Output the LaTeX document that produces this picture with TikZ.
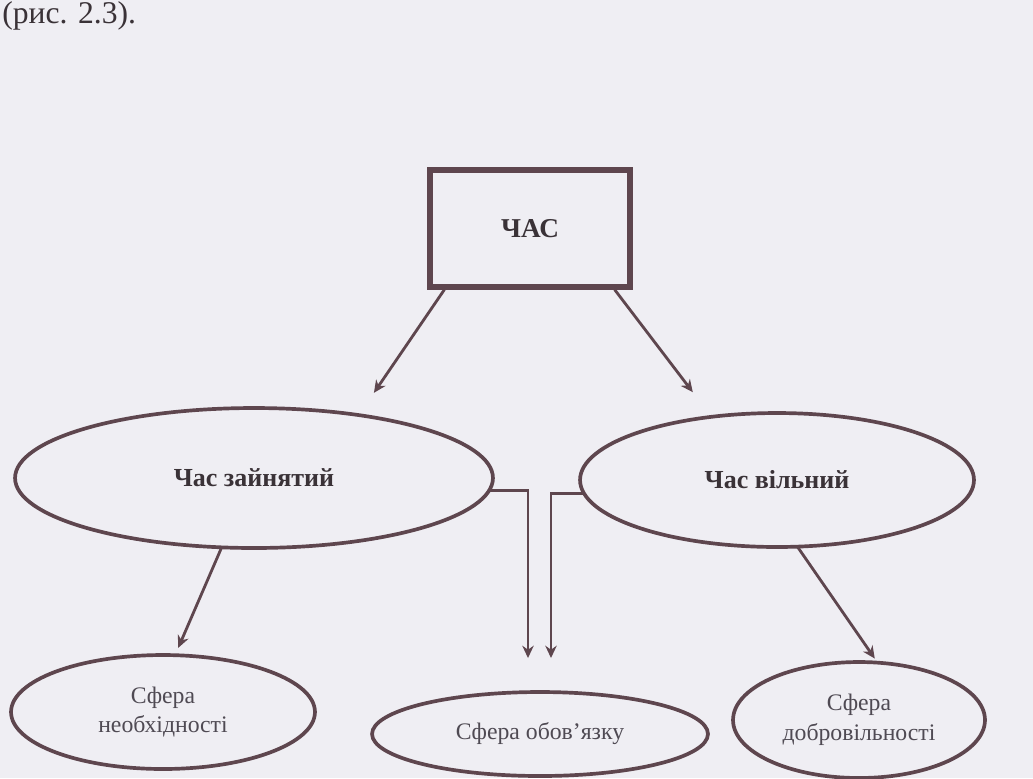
\documentclass[tikz,border=0pt]{standalone}
\usepackage{fontspec}
\setmainfont{Liberation Serif}
\usetikzlibrary{arrows.meta, shapes.geometric, positioning}
\definecolor{ink}{HTML}{5E464E}
\definecolor{paper}{HTML}{EFEEF3}
\definecolor{txt}{HTML}{3A3237}
\definecolor{txtlight}{HTML}{4F4A53}

\begin{document}
\begin{tikzpicture}[x=0.02cm, y=-0.02cm,
    oval/.style={draw=ink, line width=2.1pt, ellipse, inner sep=0pt, outer sep=0pt},
    ovaltext/.style={font=\fontsize{13.5}{17}\selectfont, text=txtlight, align=center},
    arr/.style={draw=ink, line width=1.6pt, -{Stealth[length=7pt,width=6.5pt]}}]
  \fill[paper] (0,0) rectangle (1033,778);
  \useasboundingbox (0,0) rectangle (1033,778);
  \node[anchor=base west, inner sep=0pt, font=\fontsize{18}{20}\selectfont, text=txt] (ref) at (2,23) {(рис. 2.3).};
  \node[draw=ink, line width=3pt, minimum width=4cm, minimum height=2.34cm,
    font=\fontsize{15.5}{18}\selectfont\bfseries, text=txt] (chas) at (530,228.5) {ЧАС};
  \node[oval, minimum width=9.56cm, minimum height=2.8cm,
    font=\fontsize{14.8}{17}\selectfont\bfseries, text=txt] (zan) at (254,478) {Час зайнятий};
  \node[oval, minimum width=7.88cm, minimum height=2.68cm,
    font=\fontsize{14.8}{17}\selectfont\bfseries, text=txt] (vil) at (777,480) {Час вільний};
  \node[oval, ovaltext, minimum width=6.08cm, minimum height=2.28cm] (neob) at (163,712) {Сфера\\необхідності};
  \node[oval, ovaltext, minimum width=6.72cm, minimum height=1.68cm] (obov) at (540,734) {Сфера обов’язку};
  \node[oval, ovaltext, minimum width=5.04cm, minimum height=2.32cm] (dobr) at (859,720) {Сфера\\добровільності};
  \draw[arr, shorten >=0.54cm] ([xshift=0.34cm]chas.south west) -- (zan.31);
  \draw[arr, shorten >=0.62cm] ([xshift=-0.36cm]chas.south east) -- (vil.136);
  \draw[arr, shorten >=0.16cm] (zan.245) -- (neob.78);
  \draw[arr, shorten >=0.1cm] (vil.287) -- (dobr.72);
  \draw[arr, shorten >=0.68cm] (zan.-3) -| ([xshift=-0.24cm]obov.north);
  \draw[arr, shorten >=0.68cm] (vil.184) -| ([xshift=0.22cm]obov.north);
\end{tikzpicture}
\end{document}
